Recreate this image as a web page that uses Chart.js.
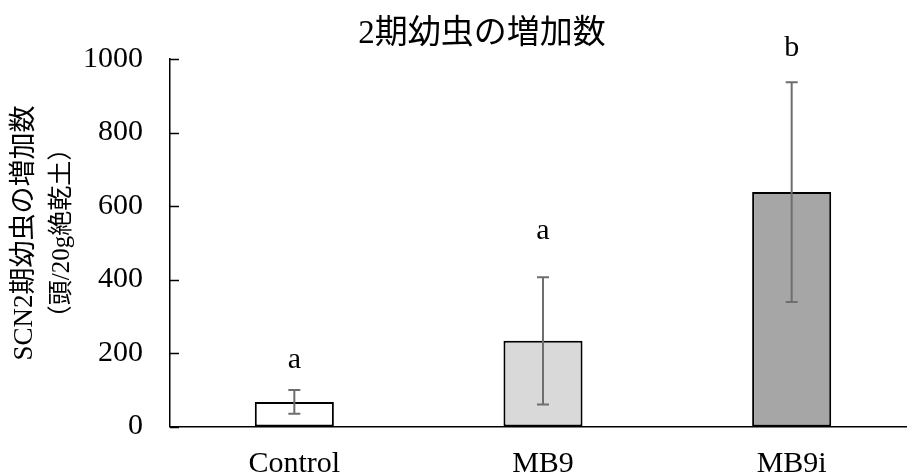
<!DOCTYPE html>
<html>
<head>
<meta charset="utf-8">
<script src="https://cdn.jsdelivr.net/npm/chart.js@4/dist/chart.umd.min.js"></script>
<style>
  html, body { margin: 0; padding: 0; background: #fff; overflow: hidden; }
  #wrap { width: 916px; height: 475px; }
</style>
</head>
<body>
<div id="wrap"><canvas id="c" width="916" height="475"></canvas></div>
<script>
// Treatments and second-stage juvenile increase (per 20 g dry soil)
const categories = ['Control', 'MB9', 'MB9i'];
const means = [67, 233, 638];
const errors = [32, 173, 299];
const barColors = ['#ffffff', '#d9d9d9', '#a6a6a6'];
// significance letters and the height (data units) of their baseline
const letters = ['a', 'a', 'b'];
const letterLevels = [160, 510, 1007];

const chartTitle = '2期幼虫の増加数';
const yTitleLines = ['SCN2期幼虫の増加数', '（頭/20g絶乾土）'];

const SERIF = '"Liberation Serif", "Noto Sans CJK JP", serif';

const decorations = {
  id: 'decorations',
  afterDatasetsDraw(chart) {
    const ctx = chart.ctx;
    const y = chart.scales.y;
    const area = chart.chartArea;
    const meta = chart.getDatasetMeta(0);

    // inward tick marks on the value axis
    ctx.save();
    ctx.strokeStyle = '#000';
    ctx.lineWidth = 1.5;
    y.ticks.forEach(t => {
      const py = Math.round(y.getPixelForValue(t.value)) + 0.5;
      ctx.beginPath();
      ctx.moveTo(area.left, py);
      ctx.lineTo(area.left + 9, py);
      ctx.stroke();
    });
    ctx.restore();

    // error bars
    ctx.save();
    ctx.strokeStyle = '#6e6e6e';
    ctx.lineWidth = 2;
    meta.data.forEach((bar, i) => {
      const x = bar.x;
      const top = y.getPixelForValue(means[i] + errors[i]);
      const bot = y.getPixelForValue(means[i] - errors[i]);
      ctx.beginPath();
      ctx.moveTo(x, top); ctx.lineTo(x, bot);
      ctx.moveTo(x - 6, top); ctx.lineTo(x + 6, top);
      ctx.moveTo(x - 6, bot); ctx.lineTo(x + 6, bot);
      ctx.stroke();
    });
    ctx.restore();

    // significance letters
    ctx.save();
    ctx.fillStyle = '#000';
    ctx.font = '30px ' + SERIF;
    ctx.textAlign = 'center';
    ctx.textBaseline = 'alphabetic';
    meta.data.forEach((bar, i) => {
      ctx.fillText(letters[i], bar.x, y.getPixelForValue(letterLevels[i]));
    });
    ctx.restore();

    // chart title
    ctx.save();
    ctx.fillStyle = '#000';
    ctx.font = '33px ' + SERIF;
    ctx.textAlign = 'center';
    ctx.textBaseline = 'middle';
    ctx.fillText(chartTitle, 482, 34);
    ctx.restore();

    // value-axis title, two rotated lines
    ctx.save();
    ctx.fillStyle = '#000';
    ctx.textAlign = 'center';
    ctx.textBaseline = 'middle';
    ctx.translate(25, 233);
    ctx.rotate(-Math.PI / 2);
    ctx.font = '27px ' + SERIF;
    ctx.fillText(yTitleLines[0], 0, 0);
    ctx.font = '25px ' + SERIF;
    ctx.fillText(yTitleLines[1], 0, 37);
    ctx.restore();
  }
};

new Chart(document.getElementById('c'), {
  type: 'bar',
  data: {
    labels: categories,
    datasets: [{
      data: means,
      backgroundColor: barColors,
      borderColor: '#000',
      borderWidth: 2,
      borderSkipped: false,
      barPercentage: 0.318,
      categoryPercentage: 1
    }]
  },
  options: {
    responsive: false,
    animation: false,
    devicePixelRatio: 1,
    layout: { padding: { top: 59, left: 0, right: 0, bottom: 0 } },
    plugins: {
      legend: { display: false },
      title: { display: false },
      tooltip: { enabled: false }
    },
    scales: {
      x: {
        offset: true,
        grid: { display: false, drawTicks: false },
        border: { display: true, color: '#000', width: 1.5 },
        ticks: {
          color: '#000',
          font: { family: SERIF, size: 30 },
          padding: 20
        },
        afterFit(scale) { scale.height = 48.5; }
      },
      y: {
        min: 0,
        max: 1000,
        grid: { display: false, drawTicks: false },
        border: { display: true, color: '#000', width: 1.5 },
        ticks: {
          stepSize: 200,
          color: '#000',
          font: { family: SERIF, size: 30 },
          padding: 27,
          callback: v => String(v)
        },
        afterFit(scale) { scale.width = 170; }
      }
    }
  },
  plugins: [decorations]
});
</script>
</body>
</html>
